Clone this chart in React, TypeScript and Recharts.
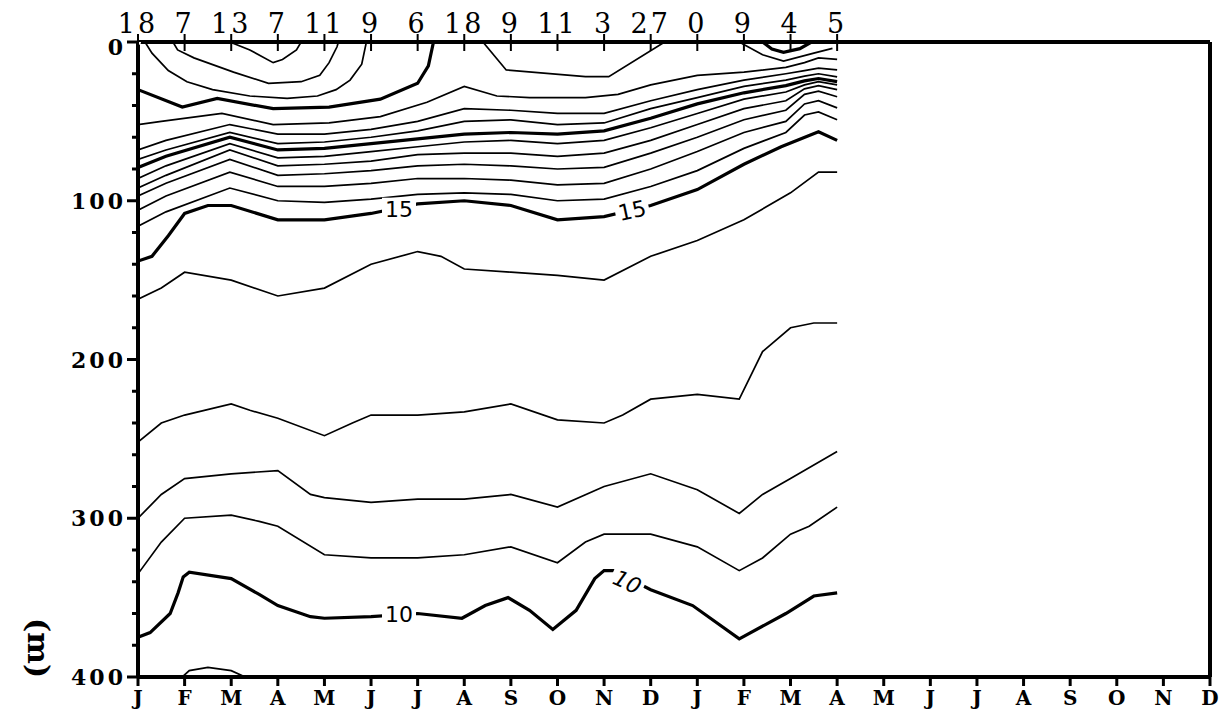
import React from "react";
import { LineChart, Line, XAxis, YAxis, ReferenceLine, ReferenceDot } from "recharts";

// x = month index (0 = first J), y = depth in m
const MONTHS = ["J", "F", "M", "A", "M", "J", "J", "A", "S", "O", "N", "D", "J", "F", "M", "A", "M", "J", "J", "A", "S", "O", "N", "D"];
const COUNTS = ["18", "7", "13", "7", "11", "9", "6", "18", "9", "11", "3", "27", "0", "9", "4", "5"];
const DEPTH_TICKS = [0, 20, 40, 60, 80, 100, 120, 140, 160, 180, 200, 220, 240, 260, 280, 300, 320, 340, 360, 380, 400];

// surface closed contours
const s1 = [[1.97, 0], [2.4, 5], [2.9, 13], [3.1, 11], [3.4, 5], [3.5, 0]];
const s2 = [[0.75, 0], [0.85, 5], [1.2, 10], [2.05, 19], [2.8, 26], [3.5, 25], [3.9, 21], [4.1, 13], [4.27, 3], [4.3, 0]];
const s3 = [[0.15, 0], [0.3, 7], [0.65, 18], [1.05, 25], [1.6, 30], [2.4, 34], [3.2, 35.5], [3.85, 34], [4.25, 30], [4.55, 24], [4.8, 14], [4.9, 0]];
const t25 = [[0, 30], [0.95, 41], [1.7, 35.5], [2.9, 42], [4.1, 41], [5.2, 36], [6.0, 26], [6.23, 15], [6.34, 0]];
const s4 = [[7.4, 0], [7.9, 17.6], [9.6, 21.8], [10.1, 21.8], [11.3, 0]];
const s5 = [[12.9, 0], [13.4, 8], [13.85, 12], [14.5, 7], [14.9, 4]];
const s6 = [[13.4, 0], [13.6, 4.4], [13.85, 6.5], [14.2, 4.2], [14.45, 0]];

// thermocline band
const l1 = [[0, 52], [0.5, 50], [1.8, 45], [2.9, 52], [4.1, 51], [5.2, 47], [6.2, 38], [7, 28], [7.7, 34], [8.4, 35], [9.6, 35], [10.3, 33], [11, 27], [12, 21], [13, 19], [13.9, 16], [14.3, 13], [14.6, 10], [15, 11]];
const l2 = [[0, 68], [0.6, 62], [1.97, 52], [3, 58], [4, 58], [5, 55], [6, 50], [7, 42], [8, 43], [9, 45], [10, 45], [11, 37], [12, 30], [13, 24], [13.9, 20], [14.3, 18], [14.6, 16.5], [15, 17.6]];
const l3 = [[0, 74], [0.6, 68], [1.97, 57], [3, 64], [4, 63], [5, 60], [6, 56], [7, 50], [8, 49], [9, 52], [10, 51], [11, 42], [12, 35], [13, 28], [13.9, 24], [14.3, 21.5], [14.6, 20], [15, 22]];
const t20 = [[0, 79], [0.6, 72], [1.97, 60], [3, 68], [4, 67], [5, 64], [6, 61], [7, 58], [8, 57], [9, 58], [10, 56], [11, 48], [12, 39], [13, 32], [13.9, 27.5], [14.3, 24.5], [14.6, 23], [15, 25]];
const l5 = [[0, 86], [0.6, 78], [1.97, 64], [3, 73], [4, 72], [5, 69], [6, 66], [7, 63], [8, 62], [9, 64], [10, 62], [11, 54], [12, 45], [13, 36], [13.9, 31.5], [14.3, 27], [14.6, 25], [15, 27]];
const l6 = [[0, 92], [0.6, 84], [1.97, 68], [3, 78], [4, 77], [5, 75], [6, 71], [7, 70], [8, 70], [9, 72], [10, 70], [11, 62], [12, 52], [13, 42], [13.9, 37], [14.3, 29.5], [14.6, 27.5], [15, 30]];
const l7 = [[0, 97], [0.6, 89], [1.97, 74], [3, 84], [4, 83], [5, 81], [6, 78], [7, 77], [8, 78], [9, 80], [10, 79], [11, 70], [12, 60], [13, 49], [13.9, 43], [14.3, 33], [14.6, 31], [15, 34.5]];
const l8 = [[0, 106], [0.6, 97], [1.97, 82], [3, 91], [4, 91], [5, 89], [6, 86], [7, 86], [8, 87], [9, 90], [10, 89], [11, 80], [12, 69], [13, 57], [13.9, 50], [14.3, 39], [14.6, 37], [15, 41.5]];
const l9 = [[0, 116], [0.6, 107], [1.97, 92], [3, 100], [4, 101], [5, 99], [6, 96], [7, 95], [8, 96], [9, 100], [10, 99], [11, 91], [12, 81], [13, 67], [13.9, 57], [14.3, 46], [14.6, 44], [15, 49]];
const t15 = [[0, 138], [0.3, 135], [0.65, 122], [1, 108], [1.5, 103], [2, 103], [3, 112], [4, 112], [5, 108], [6, 102], [7, 100], [8, 103], [9, 112], [10, 110], [11, 103], [12, 93], [13, 77], [13.8, 66], [14.6, 56.5], [15, 62]];

// deeper contours
const l14 = [[0, 162], [0.5, 155], [1, 145], [2, 150], [3, 160], [4, 155], [5, 140], [6, 132], [6.5, 135], [7, 143], [8, 145], [9, 147], [10, 150], [11, 135], [12, 125], [13, 112], [14, 95], [14.6, 82], [15, 82]];
const l13 = [[0, 252], [0.5, 240], [1, 235], [2, 228], [2.4, 232], [3, 237], [4, 248], [4.6, 240], [5, 235], [6, 235], [7, 233], [8, 228], [9, 238], [10, 240], [10.4, 235], [11, 225], [12, 222], [12.9, 225], [13.4, 195], [14, 180], [14.5, 177], [15, 177]];
const l12 = [[0, 300], [0.5, 285], [1, 275], [2, 272], [3, 270], [3.7, 285], [4, 287], [5, 290], [6, 288], [7, 288], [8, 285], [9, 293], [10, 280], [11, 272], [12, 282], [12.9, 297], [13.4, 285], [14, 275], [15, 258]];
const l11 = [[0, 335], [0.5, 315], [1, 300], [2, 298], [2.6, 302], [3, 305], [4, 323], [5, 325], [6, 325], [7, 323], [8, 318], [9, 328], [9.6, 315], [10, 310], [11, 310], [12, 318], [12.9, 333], [13.4, 325], [14, 310], [14.4, 305], [15, 293]];
const t10 = [[0, 375], [0.26, 372], [0.69, 360], [0.86, 347], [0.97, 337], [1.1, 334], [2, 338], [2.6, 348], [3, 355], [3.7, 362], [4, 363], [5, 362], [6, 360], [6.95, 363], [7.45, 355], [7.94, 350], [8.4, 358], [8.9, 370], [9.4, 358], [9.8, 338], [10, 333], [10.2, 333], [11, 345], [11.9, 355], [12.9, 376], [13.9, 360], [14.5, 349], [15, 347]];
const b9 = [[0.95, 400], [1.1, 396], [1.5, 394], [2.0, 396], [2.3, 400]];

const THIN = 1.7;
const THICK = 3.2;
const CONTOURS = [
  { id: "s1", pts: s1, w: THIN }, { id: "s2", pts: s2, w: THIN }, { id: "s3", pts: s3, w: THIN },
  { id: "t25", pts: t25, w: THICK }, { id: "s4", pts: s4, w: THIN }, { id: "s5", pts: s5, w: THIN },
  { id: "s6", pts: s6, w: THICK }, { id: "l1", pts: l1, w: THIN }, { id: "l2", pts: l2, w: THIN },
  { id: "l3", pts: l3, w: THIN }, { id: "t20", pts: t20, w: THICK }, { id: "l5", pts: l5, w: THIN },
  { id: "l6", pts: l6, w: THIN }, { id: "l7", pts: l7, w: THIN }, { id: "l8", pts: l8, w: THIN },
  { id: "l9", pts: l9, w: THIN }, { id: "t15", pts: t15, w: THICK }, { id: "l14", pts: l14, w: THIN },
  { id: "l13", pts: l13, w: THIN }, { id: "l12", pts: l12, w: THIN }, { id: "l11", pts: l11, w: THIN },
  { id: "t10", pts: t10, w: THICK }, { id: "b9", pts: b9, w: THIN },
];

const toPts = (a: number[][]) => a.map(([m, d]) => ({ m, d }));
const FONT = "'DejaVu Serif', 'Liberation Serif', serif";

const BottomTick = (props: any) => {
  const { x, y, payload } = props;
  return (
    <g>
      <line x1={x} x2={x} y1={y} y2={y + 9} stroke="#000" strokeWidth={3} />
      <text x={x} y={y + 28} textAnchor="middle" fontFamily={FONT} fontWeight="bold" fontSize={20} fill="#000">
        {MONTHS[payload.value]}
      </text>
    </g>
  );
};

const TopTick = (props: any) => {
  const { x, y, payload } = props;
  const label = COUNTS[payload.value];
  return (
    <g>
      <line x1={x} x2={x} y1={y - 8} y2={y + 9} stroke="#000" strokeWidth={2} />
      <text x={x} y={y - 9} textAnchor="middle" fontFamily={FONT} fontSize={27} letterSpacing={3} fill="#000">
        {label}
      </text>
    </g>
  );
};

const LeftTick = (props: any) => {
  const { x, y, payload } = props;
  const major = payload.value % 100 === 0;
  const dy = payload.value === 0 ? 13 : 8;
  return (
    <g>
      <line x1={major ? x - 11 : x - 6} x2={x} y1={y} y2={y} stroke="#000" strokeWidth={3} />
      {major && (
        <text x={x - 12} y={y + dy} textAnchor="end" fontFamily={FONT} fontWeight="bold" fontSize={22}
          letterSpacing={3} fill="#000">
          {payload.value}
        </text>
      )}
    </g>
  );
};

const contourLabel = (text: string, angle: number, italic = false) => (p: any) => (
  <g transform={`rotate(${angle} ${p.cx} ${p.cy})`}>
    <rect x={p.cx - 17} y={p.cy - 11} width={34} height={22} fill="#fff" />
    <text x={p.cx} y={p.cy + 8} textAnchor="middle" fontFamily="'DejaVu Sans', sans-serif" fontSize={22}
      fontStyle={italic ? "italic" : "normal"} fill="#000">
      {text}
    </text>
  </g>
);

export default function App() {
  return (
    <div style={{ position: "absolute", left: 0, top: 0, width: 1221, height: 711, background: "#fff" }}>
      <LineChart width={1221} height={711} margin={{ top: 0, right: 11, bottom: 0, left: 0 }}>
        <XAxis xAxisId="b" dataKey="m" type="number" domain={[0, 23]} ticks={MONTHS.map((_, i) => i)} interval={0}
          orientation="bottom" height={34} tickSize={0} tickMargin={0} tick={<BottomTick />} allowDataOverflow
          axisLine={{ stroke: "#000", strokeWidth: 4 }} tickLine={false} />
        <XAxis xAxisId="t" dataKey="m" type="number" domain={[0, 23]} ticks={COUNTS.map((_, i) => i)} interval={0}
          orientation="top" height={42} tickSize={0} tickMargin={0} tick={<TopTick />} allowDataOverflow
          axisLine={{ stroke: "#000", strokeWidth: 4 }} tickLine={false} />
        <YAxis yAxisId="l" type="number" domain={[0, 400]} reversed ticks={DEPTH_TICKS} interval={0} width={138}
          tickSize={0} tickMargin={0} tick={<LeftTick />} allowDataOverflow tickLine={false}
          axisLine={{ stroke: "#000", strokeWidth: 4 }}
          label={{
            content: () => (
              <text transform="translate(28 648) rotate(90)" textAnchor="middle" fontFamily={FONT} fontSize={30}
                fontWeight="bold" fill="#000">
                (m)
              </text>
            ),
          }} />
        <ReferenceLine xAxisId="b" yAxisId="l" x={23} stroke="#000" strokeWidth={4} />
        <Line xAxisId="t" yAxisId="l" data={[{ m: 0, d: 0 }]} dataKey="d" stroke="none" dot={false} isAnimationActive={false} />
        {CONTOURS.map((c) => (
          <Line key={c.id} xAxisId="b" yAxisId="l" data={toPts(c.pts)} dataKey="d" type="linear" stroke="#000"
            strokeWidth={c.w} dot={false} activeDot={false} isAnimationActive={false} />
        ))}
        <ReferenceDot xAxisId="b" yAxisId="l" x={5.6} y={105} r={0} shape={contourLabel("15", 0)} />
        <ReferenceDot xAxisId="b" yAxisId="l" x={10.6} y={106} r={0} shape={contourLabel("15", -12)} />
        <ReferenceDot xAxisId="b" yAxisId="l" x={5.6} y={360} r={0} shape={contourLabel("10", 0)} />
        <ReferenceDot xAxisId="b" yAxisId="l" x={10.5} y={340} r={0} shape={contourLabel("10", 25, true)} />
      </LineChart>
    </div>
  );
}
